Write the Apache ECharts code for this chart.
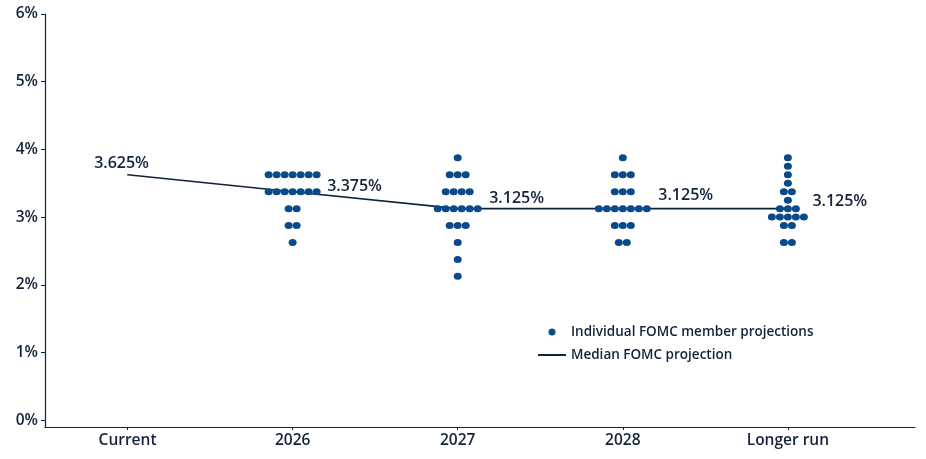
<!DOCTYPE html>
<html>
<head>
<meta charset="utf-8">
<script src="https://cdn.jsdelivr.net/npm/echarts@6/dist/echarts.min.js"></script>
<style>
html,body{margin:0;padding:0;background:#fff;}
#chart{width:926px;height:459px;}
</style>
</head>
<body>
<div id="chart"></div>
<script>
// ---- data ----
const categories = ['Current', '2026', '2027', '2028', 'Longer run'];
const yTicks = [0, 1, 2, 3, 4, 5, 6];
const medians = [3.625, 3.375, 3.125, 3.125, 3.125];
// [rate, number of participants] per category
const dotsCurrent = [];
const dots2026 = [[3.625, 7], [3.375, 7], [3.125, 2], [2.875, 2], [2.625, 1]];
const dots2027 = [[3.875, 1], [3.625, 3], [3.375, 4], [3.125, 6], [2.875, 3], [2.625, 1], [2.375, 1], [2.125, 1]];
const dots2028 = [[3.875, 1], [3.625, 3], [3.375, 3], [3.125, 7], [2.875, 3], [2.625, 2]];
const dotsLonger = [[3.875, 1], [3.75, 1], [3.625, 1], [3.5, 1], [3.375, 2], [3.25, 1], [3.125, 3], [3.0, 5], [2.875, 2], [2.625, 2]];

// ---- build ----
const dotGroups = [dotsCurrent, dots2026, dots2027, dots2028, dotsLonger];
const DOT_STEP = 8;
const scatterData = [];
dotGroups.forEach((rows, ci) => {
  rows.forEach(([rate, n]) => {
    for (let j = 0; j < n; j++) {
      scatterData.push({
        value: [ci, rate],
        symbolOffset: [(j - (n - 1) / 2) * DOT_STEP, 0]
      });
    }
  });
});

const labelOffsets = [[-6, -3, 'top'], [34, -5, 'right'], [31, -10, 'right'], [35, -13, 'right'], [24, -7, 'right']];
const medianData = medians.map((m, i) => {
  const [dx, dy, pos] = labelOffsets[i];
  return {
    value: [i, m],
    label: { position: pos, distance: 0, offset: [dx, dy] }
  };
});

const FONT = '"Open Sans", "Noto Sans", sans-serif';
const TEXT = '#13233a';
const NAVY = '#0f2238';
const DOT = '#0b4a8a';

const chart = echarts.init(document.getElementById('chart'), null, { renderer: 'canvas' });
chart.setOption({
  animation: false,
  backgroundColor: '#fff',
  grid: { left: 45, right: 11, top: 14, bottom: 32, containLabel: false },
  xAxis: {
    type: 'value',
    min: -0.5,
    max: 4.77,
    axisLine: { show: true, onZero: false, lineStyle: { color: NAVY, width: 1.2 } },
    axisTick: { show: true, length: 3, customValues: [0, 1, 2, 3, 4], lineStyle: { color: NAVY } },
    splitLine: { show: false },
    axisLabel: {
      customValues: [0, 1, 2, 3, 4],
      formatter: v => categories[Math.round(v)] || '',
      color: TEXT, fontSize: 15.5, fontFamily: FONT, fontWeight: 600, margin: 6
    }
  },
  yAxis: {
    type: 'value',
    min: -0.1,
    max: 6,
    axisLine: { show: true, onZero: false, lineStyle: { color: NAVY, width: 1.2 } },
    axisTick: { show: true, length: 4, customValues: yTicks, lineStyle: { color: NAVY } },
    splitLine: { show: false },
    axisLabel: {
      customValues: yTicks,
      formatter: v => v + '%',
      color: TEXT, fontSize: 15.5, fontFamily: FONT, fontWeight: 600, margin: 7
    }
  },
  legend: {
    orient: 'vertical',
    left: 532,
    top: 320,
    itemWidth: 28,
    itemHeight: 7,
    itemGap: 9,
    textStyle: { color: TEXT, fontSize: 13.5, fontFamily: FONT, fontWeight: 600, padding: [0, 0, 0, 0] },
    data: [
      { name: 'Individual FOMC member projections', icon: 'circle' },
      { name: 'Median FOMC projection', itemStyle: { opacity: 0 } }
    ]
  },
  series: [
    {
      name: 'Median FOMC projection',
      type: 'line',
      data: medianData,
      symbol: 'circle',
      symbolSize: 1,
      showSymbol: true,
      lineStyle: { color: NAVY, width: 1.6 },
      itemStyle: { color: NAVY },
      label: {
        show: true,
        formatter: p => p.value[1].toFixed(3) + '%',
        color: TEXT, fontSize: 16, fontFamily: FONT, fontWeight: 600
      },
      z: 2
    },
    {
      name: 'Individual FOMC member projections',
      type: 'scatter',
      data: scatterData,
      symbol: 'circle',
      symbolSize: [8, 7],
      itemStyle: { color: DOT, opacity: 1 },
      z: 3
    }
  ]
});
</script>
</body>
</html>
